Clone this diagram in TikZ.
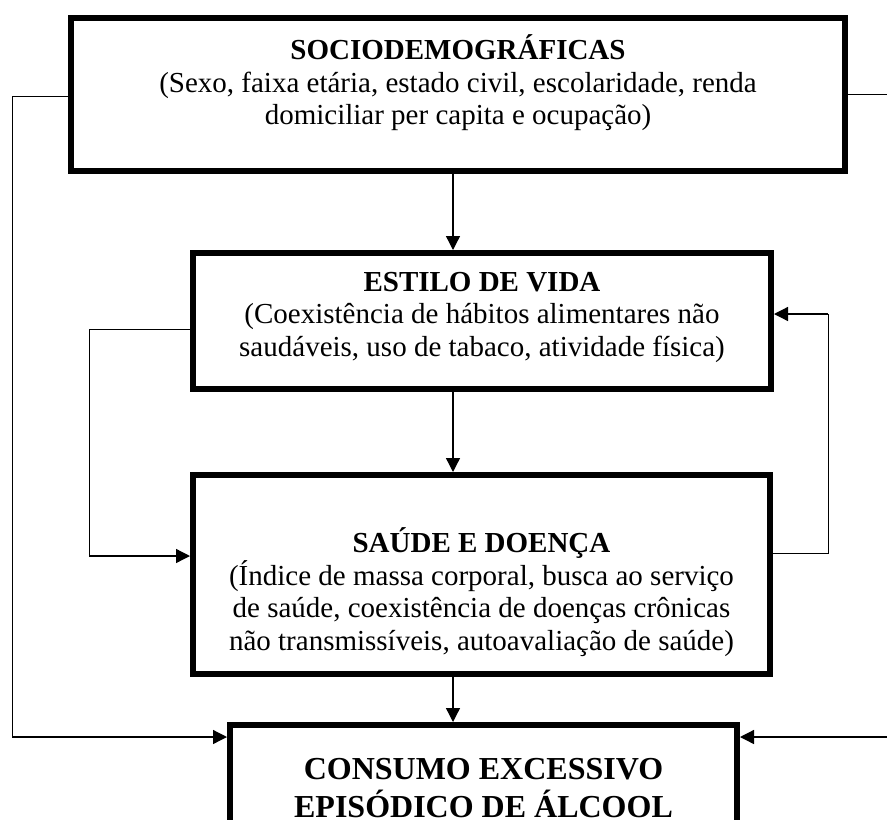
\documentclass[tikz,border=0pt]{standalone}
\usepackage{fontspec}
\setmainfont{Liberation Serif}
\usetikzlibrary{arrows.meta,calc}
\begin{document}
\begin{tikzpicture}[x=1pt,y=-1pt,
  boxst/.style={draw=black,line width=6pt,fill=white,inner sep=0pt},
  txt/.style={anchor=center,align=center,font=\fontsize{29}{32.5}\selectfont},
  conn/.style={line width=1.3pt,draw=black},
  arr/.style={conn,-{Triangle[length=14pt,width=14pt]}}]
\useasboundingbox (0,0) rectangle (887,820);
\node[boxst,minimum width=774pt,minimum height=153pt] (b1) at (458,94.5) {};
\node[txt] (t1) at (458,83) {\textbf{SOCIODEMOGRÁFICAS}\\(Sexo, faixa etária, estado civil, escolaridade, renda\\domiciliar per capita e ocupação)};
\node[boxst,minimum width=578pt,minimum height=136pt] (b2) at (482,321) {};
\node[txt] (t2) at (482,317) {\textbf{ESTILO DE VIDA}\\(Coexistência de hábitos alimentares não\\saudáveis, uso de tabaco, atividade física)};
\node[boxst,minimum width=577pt,minimum height=199pt] (b4) at (481.5,574.5) {};
\node[txt] (t4) at (481.5,592) {\textbf{SAÚDE E DOENÇA}\\(Índice de massa corporal, busca ao serviço\\de saúde, coexistência de doenças crônicas\\não transmissíveis, autoavaliação de saúde)};
\node[boxst,minimum width=507pt,minimum height=130pt] (b5) at (483.5,790) {};
\node[anchor=center,align=center,font=\fontsize{32}{38}\selectfont\bfseries] (t5) at (483.5,788) {CONSUMO EXCESSIVO\\EPISÓDICO DE ÁLCOOL};
\coordinate (ax) at (453,0);
\draw[arr] (b1.south -| ax) -- (b2.north -| ax);
\draw[arr] (b2.south -| ax) -- (b4.north -| ax);
\draw[arr] (b4.south -| ax) -- (b5.north -| ax);
\coordinate (l1) at (12,96);
\coordinate (l2) at (12,737);
\draw[conn,line width=1pt] (b1.west |- l1) -- (l1) -- (l2);
\draw[arr] (l2) -- (b5.west |- l2);
\coordinate (r1) at (900,94);
\draw[conn,line width=1pt] (b1.east |- r1) -- (r1);
\coordinate (r2) at (900,737);
\draw[arr] (r2) -- (b5.east |- r2);
\coordinate (a1) at (89,329);
\coordinate (a2) at (89,556);
\draw[conn,line width=1pt] (b2.west |- a1) -- (a1) -- (a2);
\draw[arr] (a2) -- (b4.west |- a2);
\coordinate (c1) at (828,553);
\coordinate (c2) at (828,314);
\draw[conn,line width=1pt] (b4.east |- c1) -- (c1) -- (c2);
\draw[arr] (c2) -- (b2.east |- c2);
\end{tikzpicture}
\end{document}
